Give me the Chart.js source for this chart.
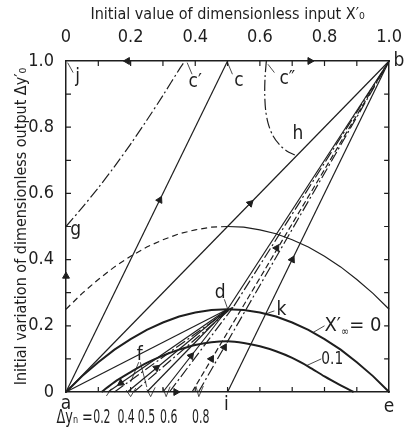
<!DOCTYPE html>
<html>
<head>
<meta charset="utf-8">
<script src="https://cdn.jsdelivr.net/npm/chart.js@4.4.0/dist/chart.umd.min.js"></script>
<style>
  html, body { margin: 0; padding: 0; background: #fff; }
</style>
</head>
<body>
<canvas id="chart" width="415" height="427"></canvas>
<script>
// ---- values ----
const tickValues = [0.1, 0.2, 0.3, 0.4, 0.5, 0.6, 0.7, 0.8, 0.9];

// X'inf = 0 limit curve and the upper (dashed / solid) curve
const parabolaX = [0, .05, .1, .15, .2, .25, .3, .35, .4, .45, .5, .55, .6, .65, .7, .75, .8, .85, .9, .95, 1];
const limitZeroY = [0, .048, .09, .128, .16, .188, .21, .228, .24, .248, .25, .248, .24, .228, .21, .188, .16, .128, .09, .048, 0];
const upperY = [.25, .298, .34, .378, .41, .438, .46, .478, .49, .498, .5, .498, .49, .478, .46, .438, .41, .378, .34, .298, .25];

// X'inf = 0.1 limit curve
const limitTenthX = [.11, .15, .2, .25, .3, .35, .4, .45, .5, .55, .6, .65, .7, .75, .8, .85, .89];
const limitTenthY = [0, .03, .06, .088, .11, .128, .142, .15, .153, .148, .138, .123, .103, .077, .047, .02, 0];

// dash-dot curves g -> c' and c'' -> h
const curveGX = [0, .05, .1, .15, .2, .25, .3, .35, .368];
const curveGY = [.5, .557, .617, .681, .749, .821, .896, .974, 1];
const curveHX = [.62, .616, .615, .618, .626, .64, .66, .683, .708];
const curveHY = [1, .95, .9, .85, .81, .775, .748, .728, .716];

// named points of the figure
const pointA = [0, 0], pointB = [1, 1], pointC = [.5, 1], pointD = [.5, .25], pointI = [.5, 0];
const pointD2 = [.52, .26];

// trajectories starting on the bottom axis
const solidStartX = [.13, .19, .25, .30];     // -> d
const dashDotStartX = [.15, .21, .32];       // -> near d
const dashedStartX = [.39];                  // -> b
const dashDot2StartX = [.41];                // -> b

// arrow heads: x, y, direction (deg, clockwise from up)
const arrowX = [.19, .755, 0, .34, .29, .57, .652, .70, .45, .49, .387, .17, .28];
const arrowY = [1, 1, .35, 0, .58, .57, .435, .40, .10, .135, .109, .027, .073];
const arrowDir = [270, 90, 0, 90, 27, 45, 32, 27, 31, 30, 39, 236, 51];

// leader lines of labels: [x1, y1, x2, y2]
const leaderLines = [
  [.765, .18, .8, .2], [.745, .08, .79, .1], [.615, .235, .645, .245],
  [.49, .28, .5, .252], [.375, .995, .39, .96], [.5, .995, .515, .96],
  [.625, .99, .645, .965], [.005, .995, .022, .965],
  [.225, .09, .2, .03], [.23, .09, .25, .015],
  [.125, -.012, .14, .01],
  [.186, .006, .2, -.014], [.2, -.014, .216, .012],
  [.25, .008, .262, -.014], [.262, -.014, .276, .014],
  [.3, .012, .31, -.014], [.31, -.014, .322, .016],
  [.402, .018, .411, -.014], [.411, -.014, .425, .018]
];

// letters on the figure: text, x, y
const letterLabels = [
  ['a', 0, -.036], ['i', .496, -.04], ['e', 1.0, -.045], ['b', 1.03, 1.0],
  ['c′', .40, .937], ['c', .535, .94], ['c″', .685, .945], ['j', .036, .95],
  ['g', .03, .49], ['h', .718, .78], ['d', .477, .3], ['f', .228, .112], ['k', .667, .248]
];

// Delta y_n labels under the axis
const deltaYnText = ['0.2', '0.4', '0.5', '0.6', '0.8'];
const deltaYnX = [.111, .186, .249, .318, .417];

// ---- styling ----
const ink = '#1e1e1e';
const fontFamily = "'Liberation Sans Narrow', 'DejaVu Sans Condensed', 'Liberation Sans', sans-serif";
const dashDot = [11, 3, 2, 3];

function pts(xs, ys) {
  return xs.map((x, i) => ({ x, y: ys[i] }));
}

function seg(p, q) {
  return [{ x: p[0], y: p[1] }, { x: q[0], y: q[1] }];
}

function lineSet(data, opts = {}) {
  return Object.assign({
    data,
    showLine: true,
    borderColor: ink,
    borderWidth: 1.2,
    pointRadius: 0,
    fill: false,
    tension: 0,
    clip: false
  }, opts);
}

function tickText(v) {
  const k = Math.round(v * 10);
  if (k % 2) return '';
  return k === 0 ? '0' : (k / 10).toFixed(1);
}

// text squeezed horizontally, like the narrow lettering of the figure
function fillNarrow(ctx, text, x, y, sx) {
  ctx.save();
  ctx.translate(x, y);
  ctx.scale(sx, 1);
  ctx.fillText(text, 0, 0);
  ctx.restore();
}

const datasets = [
  lineSet(pts(parabolaX, limitZeroY), { borderWidth: 2 }),
  lineSet(pts(limitTenthX, limitTenthY), { borderWidth: 2, tension: 0.3 }),
  lineSet(pts(parabolaX.slice(0, 11), upperY.slice(0, 11)), { borderDash: [6, 4] }),
  lineSet(pts(parabolaX.slice(10), upperY.slice(10))),
  lineSet(seg(pointA, pointC)),
  lineSet(seg(pointA, pointB)),
  lineSet(seg(pointA, pointD)),
  lineSet(seg(pointD, pointB)),
  lineSet(seg(pointI, pointB)),
  lineSet(seg(pointD2, pointB), { borderDash: dashDot }),
  lineSet(pts(curveGX, curveGY), { borderDash: dashDot, tension: 0.3 }),
  lineSet(pts(curveHX, curveHY), { borderDash: dashDot, tension: 0.3 })
];

solidStartX.forEach(x0 => datasets.push(lineSet(seg([x0, 0], pointD))));
dashDotStartX.forEach(x0 => datasets.push(lineSet(seg([x0, 0], pointD2), { borderDash: dashDot })));
dashedStartX.forEach(x0 => datasets.push(lineSet(seg([x0, 0], pointB), { borderDash: [6, 3] })));
dashDot2StartX.forEach(x0 => datasets.push(lineSet(seg([x0, 0], pointB), { borderDash: dashDot })));
leaderLines.forEach(l => datasets.push(lineSet(seg([l[0], l[1]], [l[2], l[3]]), { borderWidth: 0.8 })));

datasets.push({
  data: pts(arrowX, arrowY),
  showLine: false,
  pointStyle: 'triangle',
  pointRadius: 4,
  rotation: arrowDir,
  backgroundColor: ink,
  borderColor: ink,
  borderWidth: 1,
  clip: false
});

// inward tick marks, letters and the labels below the axis
const figureDecor = {
  id: 'figureDecor',
  afterDatasetsDraw(chart) {
    const { ctx, chartArea: ca, scales: { x, y } } = chart;
    ctx.save();
    ctx.strokeStyle = ink;
    ctx.lineWidth = 1.2;
    ctx.beginPath();
    tickValues.forEach(v => {
      const px = x.getPixelForValue(v);
      const py = y.getPixelForValue(v);
      ctx.moveTo(px, ca.top); ctx.lineTo(px, ca.top + 5);
      ctx.moveTo(px, ca.bottom); ctx.lineTo(px, ca.bottom - 5);
      ctx.moveTo(ca.left, py); ctx.lineTo(ca.left + 5, py);
      ctx.moveTo(ca.right, py); ctx.lineTo(ca.right - 5, py);
    });
    ctx.stroke();

    ctx.fillStyle = ink;
    ctx.textAlign = 'center';
    ctx.textBaseline = 'middle';
    ctx.font = `19px ${fontFamily}`;
    letterLabels.forEach(([t, lx, ly]) => {
      ctx.fillText(t, x.getPixelForValue(lx), y.getPixelForValue(ly));
    });

    // 0.1 label of the lower limit curve
    ctx.font = `18px ${fontFamily}`;
    ctx.textAlign = 'left';
    fillNarrow(ctx, '0.1', x.getPixelForValue(.79), y.getPixelForValue(.1), 0.85);

    // X'inf = 0 label
    let px = x.getPixelForValue(.8);
    const py = y.getPixelForValue(.2);
    ctx.font = `20px ${fontFamily}`;
    ctx.fillText('X′', px, py);
    px += ctx.measureText('X′').width;
    ctx.font = `11px ${fontFamily}`;
    ctx.fillText('∞', px, py + 6);
    px += ctx.measureText('∞').width;
    ctx.font = `20px ${fontFamily}`;
    ctx.fillText('= 0', px, py);

    // Delta y_n row
    const rowY = y.getPixelForValue(-.079);
    ctx.font = `19px ${fontFamily}`;
    ctx.textAlign = 'center';
    deltaYnText.forEach((t, i) => fillNarrow(ctx, t, x.getPixelForValue(deltaYnX[i]), rowY, 0.64));
    ctx.textAlign = 'right';
    fillNarrow(ctx, 'Δyₙ =', x.getPixelForValue(deltaYnX[0]) - 9, rowY, 0.75);
    ctx.restore();
  }
};

const axisFont = { family: fontFamily, size: 18 };
const titleFont = { family: fontFamily, size: 16 };
const border = { display: true, color: ink, width: 1.5 };

new Chart(document.getElementById('chart'), {
  type: 'scatter',
  data: { datasets },
  options: {
    responsive: false,
    animation: false,
    devicePixelRatio: 1,
    layout: { padding: 0 },
    plugins: { legend: { display: false }, tooltip: { enabled: false } },
    scales: {
      x: {
        type: 'linear', position: 'top', min: 0, max: 1,
        grid: { display: false, drawTicks: false }, border,
        ticks: { stepSize: 0.1, autoSkip: false, maxRotation: 0, padding: 13, color: ink, font: axisFont, callback: tickText },
        title: { display: true, text: 'Initial value of dimensionless input X′₀', color: ink, font: titleFont, padding: { top: 5 } },
        afterFit: s => { s.height = 61; }
      },
      y: {
        type: 'linear', position: 'left', min: 0, max: 1,
        grid: { display: false, drawTicks: false }, border,
        ticks: { stepSize: 0.1, autoSkip: false, padding: 12, color: ink, font: axisFont, callback: tickText },
        title: { display: true, text: 'Initial variation of dimensionless output Δy′₀', color: ink, font: titleFont, padding: { top: 12 } },
        afterFit: s => { s.width = 66; }
      },
      x2: {
        type: 'linear', position: 'bottom', min: 0, max: 1,
        grid: { display: false, drawTicks: false }, border,
        ticks: { display: false },
        afterFit: s => { s.height = 35; }
      },
      y2: {
        type: 'linear', position: 'right', min: 0, max: 1,
        grid: { display: false, drawTicks: false }, border,
        ticks: { display: false },
        afterFit: s => { s.width = 15; }
      }
    }
  },
  plugins: [figureDecor]
});
</script>
</body>
</html>
